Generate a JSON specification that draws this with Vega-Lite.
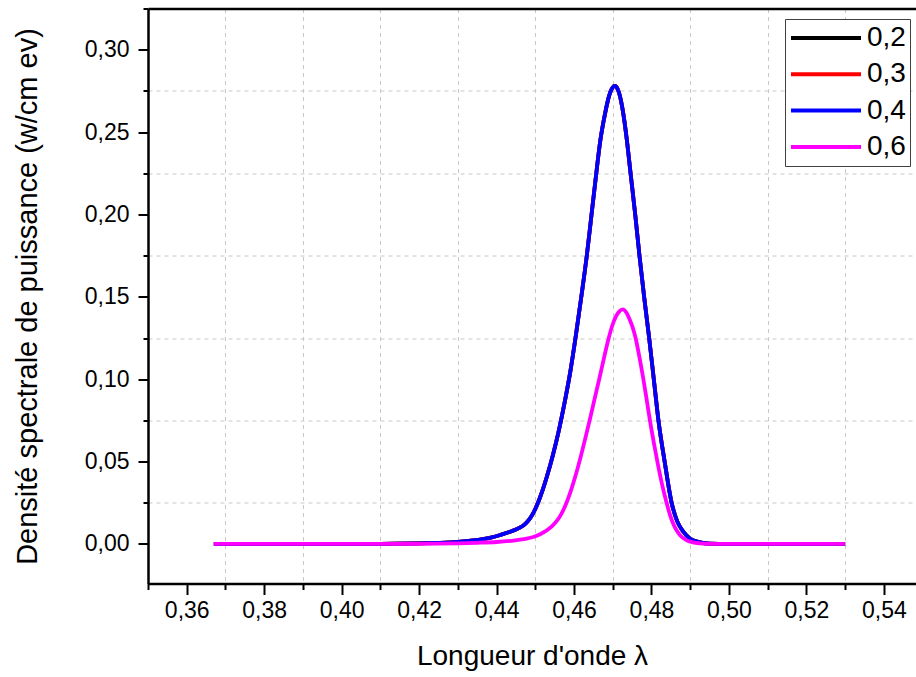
{
  "$schema": "https://vega.github.io/schema/vega-lite/v6.json",
  "width": 768,
  "height": 575,
  "autosize": {"type": "none"},
  "padding": {"left": 148, "top": 8.5, "right": 0, "bottom": 93.5},
  "background": "white",
  "config": {"view": {"stroke": null}, "font": "Liberation Sans"},
  "datasets": {
    "curves": [
      {"s":"0,2","x":0.367,"y":0},{"s":"0,2","x":0.39,"y":0},{"s":"0,2","x":0.41,"y":0.0001},{"s":"0,2","x":0.42,"y":0.0003},{"s":"0,2","x":0.4245,"y":0.0006},{"s":"0,2","x":0.43,"y":0.0012},{"s":"0,2","x":0.435,"y":0.0024},{"s":"0,2","x":0.4385,"y":0.0038},{"s":"0,2","x":0.4409,"y":0.0054},{"s":"0,2","x":0.4435,"y":0.0074},{"s":"0,2","x":0.446,"y":0.0099},{"s":"0,2","x":0.447,"y":0.0114},{"s":"0,2","x":0.448,"y":0.0136},{"s":"0,2","x":0.449,"y":0.0168},{"s":"0,2","x":0.45,"y":0.0212},{"s":"0,2","x":0.451,"y":0.0268},{"s":"0,2","x":0.452,"y":0.0334},{"s":"0,2","x":0.453,"y":0.0409},{"s":"0,2","x":0.4545,"y":0.0535},{"s":"0,2","x":0.456,"y":0.068},{"s":"0,2","x":0.4575,"y":0.085},{"s":"0,2","x":0.459,"y":0.104},{"s":"0,2","x":0.4605,"y":0.127},{"s":"0,2","x":0.462,"y":0.152},{"s":"0,2","x":0.4633,"y":0.175},{"s":"0,2","x":0.4645,"y":0.1995},{"s":"0,2","x":0.4656,"y":0.222},{"s":"0,2","x":0.4668,"y":0.245},{"s":"0,2","x":0.468,"y":0.261},{"s":"0,2","x":0.469,"y":0.2715},{"s":"0,2","x":0.4698,"y":0.2765},{"s":"0,2","x":0.4706,"y":0.278},{"s":"0,2","x":0.4716,"y":0.274},{"s":"0,2","x":0.4726,"y":0.263},{"s":"0,2","x":0.4736,"y":0.246},{"s":"0,2","x":0.4746,"y":0.225},{"s":"0,2","x":0.4758,"y":0.2},{"s":"0,2","x":0.4769,"y":0.175},{"s":"0,2","x":0.4781,"y":0.15},{"s":"0,2","x":0.4794,"y":0.125},{"s":"0,2","x":0.4806,"y":0.1},{"s":"0,2","x":0.4818,"y":0.075},{"s":"0,2","x":0.4834,"y":0.05},{"s":"0,2","x":0.4852,"y":0.025},{"s":"0,2","x":0.4866,"y":0.014},{"s":"0,2","x":0.4882,"y":0.0075},{"s":"0,2","x":0.49,"y":0.0032},{"s":"0,2","x":0.4925,"y":0.001},{"s":"0,2","x":0.495,"y":0.0002},{"s":"0,2","x":0.5,"y":0},{"s":"0,2","x":0.53,"y":0},
      {"s":"0,3","x":0.367,"y":0},{"s":"0,3","x":0.39,"y":0},{"s":"0,3","x":0.41,"y":0.0001},{"s":"0,3","x":0.42,"y":0.0003},{"s":"0,3","x":0.4245,"y":0.0006},{"s":"0,3","x":0.43,"y":0.0012},{"s":"0,3","x":0.435,"y":0.0024},{"s":"0,3","x":0.4385,"y":0.0038},{"s":"0,3","x":0.4409,"y":0.0054},{"s":"0,3","x":0.4435,"y":0.0074},{"s":"0,3","x":0.446,"y":0.0099},{"s":"0,3","x":0.447,"y":0.0114},{"s":"0,3","x":0.448,"y":0.0136},{"s":"0,3","x":0.449,"y":0.0168},{"s":"0,3","x":0.45,"y":0.0212},{"s":"0,3","x":0.451,"y":0.0268},{"s":"0,3","x":0.452,"y":0.0334},{"s":"0,3","x":0.453,"y":0.0409},{"s":"0,3","x":0.4545,"y":0.0535},{"s":"0,3","x":0.456,"y":0.068},{"s":"0,3","x":0.4575,"y":0.085},{"s":"0,3","x":0.459,"y":0.104},{"s":"0,3","x":0.4605,"y":0.127},{"s":"0,3","x":0.462,"y":0.152},{"s":"0,3","x":0.4633,"y":0.175},{"s":"0,3","x":0.4645,"y":0.1995},{"s":"0,3","x":0.4656,"y":0.222},{"s":"0,3","x":0.4668,"y":0.245},{"s":"0,3","x":0.468,"y":0.261},{"s":"0,3","x":0.469,"y":0.2715},{"s":"0,3","x":0.4698,"y":0.2765},{"s":"0,3","x":0.4706,"y":0.278},{"s":"0,3","x":0.4716,"y":0.274},{"s":"0,3","x":0.4726,"y":0.263},{"s":"0,3","x":0.4736,"y":0.246},{"s":"0,3","x":0.4746,"y":0.225},{"s":"0,3","x":0.4758,"y":0.2},{"s":"0,3","x":0.4769,"y":0.175},{"s":"0,3","x":0.4781,"y":0.15},{"s":"0,3","x":0.4794,"y":0.125},{"s":"0,3","x":0.4806,"y":0.1},{"s":"0,3","x":0.4818,"y":0.075},{"s":"0,3","x":0.4834,"y":0.05},{"s":"0,3","x":0.4852,"y":0.025},{"s":"0,3","x":0.4866,"y":0.014},{"s":"0,3","x":0.4882,"y":0.0075},{"s":"0,3","x":0.49,"y":0.0032},{"s":"0,3","x":0.4925,"y":0.001},{"s":"0,3","x":0.495,"y":0.0002},{"s":"0,3","x":0.5,"y":0},{"s":"0,3","x":0.53,"y":0},
      {"s":"0,4","x":0.367,"y":0},{"s":"0,4","x":0.39,"y":0},{"s":"0,4","x":0.41,"y":0.0001},{"s":"0,4","x":0.42,"y":0.0003},{"s":"0,4","x":0.4245,"y":0.0006},{"s":"0,4","x":0.43,"y":0.0012},{"s":"0,4","x":0.435,"y":0.0024},{"s":"0,4","x":0.4385,"y":0.0038},{"s":"0,4","x":0.4409,"y":0.0054},{"s":"0,4","x":0.4435,"y":0.0074},{"s":"0,4","x":0.446,"y":0.0099},{"s":"0,4","x":0.447,"y":0.0114},{"s":"0,4","x":0.448,"y":0.0136},{"s":"0,4","x":0.449,"y":0.0168},{"s":"0,4","x":0.45,"y":0.0212},{"s":"0,4","x":0.451,"y":0.0268},{"s":"0,4","x":0.452,"y":0.0334},{"s":"0,4","x":0.453,"y":0.0409},{"s":"0,4","x":0.4545,"y":0.0535},{"s":"0,4","x":0.456,"y":0.068},{"s":"0,4","x":0.4575,"y":0.085},{"s":"0,4","x":0.459,"y":0.104},{"s":"0,4","x":0.4605,"y":0.127},{"s":"0,4","x":0.462,"y":0.152},{"s":"0,4","x":0.4633,"y":0.175},{"s":"0,4","x":0.4645,"y":0.1995},{"s":"0,4","x":0.4656,"y":0.222},{"s":"0,4","x":0.4668,"y":0.245},{"s":"0,4","x":0.468,"y":0.261},{"s":"0,4","x":0.469,"y":0.2715},{"s":"0,4","x":0.4698,"y":0.2765},{"s":"0,4","x":0.4706,"y":0.278},{"s":"0,4","x":0.4716,"y":0.274},{"s":"0,4","x":0.4726,"y":0.263},{"s":"0,4","x":0.4736,"y":0.246},{"s":"0,4","x":0.4746,"y":0.225},{"s":"0,4","x":0.4758,"y":0.2},{"s":"0,4","x":0.4769,"y":0.175},{"s":"0,4","x":0.4781,"y":0.15},{"s":"0,4","x":0.4794,"y":0.125},{"s":"0,4","x":0.4806,"y":0.1},{"s":"0,4","x":0.4818,"y":0.075},{"s":"0,4","x":0.4834,"y":0.05},{"s":"0,4","x":0.4852,"y":0.025},{"s":"0,4","x":0.4866,"y":0.014},{"s":"0,4","x":0.4882,"y":0.0075},{"s":"0,4","x":0.49,"y":0.0032},{"s":"0,4","x":0.4925,"y":0.001},{"s":"0,4","x":0.495,"y":0.0002},{"s":"0,4","x":0.5,"y":0},{"s":"0,4","x":0.53,"y":0},
      {"s":"0,6","x":0.367,"y":0},{"s":"0,6","x":0.39,"y":0},{"s":"0,6","x":0.42,"y":0.0001},{"s":"0,6","x":0.43,"y":0.0004},{"s":"0,6","x":0.435,"y":0.0007},{"s":"0,6","x":0.44,"y":0.0012},{"s":"0,6","x":0.4448,"y":0.0022},{"s":"0,6","x":0.4475,"y":0.0031},{"s":"0,6","x":0.4495,"y":0.0042},{"s":"0,6","x":0.4515,"y":0.0062},{"s":"0,6","x":0.4542,"y":0.0105},{"s":"0,6","x":0.4555,"y":0.0138},{"s":"0,6","x":0.4567,"y":0.0181},{"s":"0,6","x":0.4579,"y":0.0241},{"s":"0,6","x":0.4592,"y":0.0324},{"s":"0,6","x":0.4604,"y":0.0415},{"s":"0,6","x":0.4616,"y":0.0518},{"s":"0,6","x":0.4628,"y":0.063},{"s":"0,6","x":0.4641,"y":0.0757},{"s":"0,6","x":0.4653,"y":0.0879},{"s":"0,6","x":0.4665,"y":0.1},{"s":"0,6","x":0.4677,"y":0.1125},{"s":"0,6","x":0.4688,"y":0.1235},{"s":"0,6","x":0.4698,"y":0.132},{"s":"0,6","x":0.4708,"y":0.138},{"s":"0,6","x":0.4717,"y":0.1412},{"s":"0,6","x":0.4726,"y":0.1424},{"s":"0,6","x":0.4735,"y":0.1405},{"s":"0,6","x":0.4745,"y":0.1355},{"s":"0,6","x":0.4752,"y":0.131},{"s":"0,6","x":0.4759,"y":0.125},{"s":"0,6","x":0.4768,"y":0.1145},{"s":"0,6","x":0.4778,"y":0.1015},{"s":"0,6","x":0.4787,"y":0.0885},{"s":"0,6","x":0.4796,"y":0.075},{"s":"0,6","x":0.4806,"y":0.0615},{"s":"0,6","x":0.4816,"y":0.049},{"s":"0,6","x":0.4827,"y":0.0365},{"s":"0,6","x":0.4839,"y":0.025},{"s":"0,6","x":0.4848,"y":0.0175},{"s":"0,6","x":0.4857,"y":0.0118},{"s":"0,6","x":0.4866,"y":0.0078},{"s":"0,6","x":0.4874,"y":0.0052},{"s":"0,6","x":0.489,"y":0.0023},{"s":"0,6","x":0.4907,"y":0.001},{"s":"0,6","x":0.4925,"y":0.0004},{"s":"0,6","x":0.495,"y":0.0001},{"s":"0,6","x":0.5,"y":0},{"s":"0,6","x":0.53,"y":0}
    ]
  },
  "data": {"name": "curves"},
  "encoding": {
    "y": {
      "field": "y",
      "type": "quantitative",
      "scale": {"domain": [-0.024, 0.325], "nice": false, "zero": false},
      "axis": {
        "values": [0, 0.025, 0.05, 0.075, 0.1, 0.125, 0.15, 0.175, 0.2, 0.225, 0.25, 0.275, 0.3, 0.325],
        "labelExpr": "abs(datum.value*20 - round(datum.value*20)) < 0.01 ? replace(format(datum.value, '.2f'), '.', ',') : ''",
        "grid": true,
        "gridDash": [4, 4],
        "gridColor": "#c8c8c8",
        "gridWidth": 1,
        "gridOpacity": {"condition": {"test": "abs(datum.value*20 - round(datum.value*20)) < 0.01", "value": 0}, "value": 1},
        "tickSize": {"condition": {"test": "abs(datum.value*20 - round(datum.value*20)) < 0.01", "value": 10}, "value": 5},
        "tickWidth": 2,
        "tickColor": "black",
        "domainColor": "black",
        "domainWidth": 2.5,
        "labelFontSize": 23,
        "labelColor": "black",
        "labelPadding": 9,
        "title": "Densité spectrale de puissance (w/cm ev)",
        "titleFontSize": 29,
        "titleFontWeight": "normal",
        "titleColor": "black",
        "titlePadding": 42
      }
    }
  },
  "layer": [
    {
      "mark": {"type": "line", "strokeWidth": 3.8, "interpolate": "monotone"},
      "encoding": {
        "x": {
          "field": "x",
          "type": "quantitative",
          "scale": {"domain": [0.35, 0.5483], "nice": false, "zero": false},
          "axis": {
            "values": [0.35, 0.36, 0.37, 0.38, 0.39, 0.4, 0.41, 0.42, 0.43, 0.44, 0.45, 0.46, 0.47, 0.48, 0.49, 0.5, 0.51, 0.52, 0.53, 0.54],
            "labelExpr": "abs(datum.value*50 - round(datum.value*50)) < 0.01 ? replace(format(datum.value, '.2f'), '.', ',') : ''",
            "grid": true,
            "gridDash": [4, 4],
            "gridColor": "#c8c8c8",
            "gridWidth": 1,
            "gridOpacity": {"condition": {"test": "abs(datum.value*50 - round(datum.value*50)) < 0.01", "value": 0}, "value": 1},
            "tickSize": {"condition": {"test": "abs(datum.value*50 - round(datum.value*50)) < 0.01", "value": 11}, "value": 6},
            "tickWidth": 2,
            "tickColor": "black",
            "domainColor": "black",
            "domainWidth": 2.5,
            "labelFontSize": 23,
            "labelColor": "black",
            "labelPadding": 5,
            "labelFlush": false,
            "labelOverlap": false,
            "title": "Longueur d'onde λ",
            "titleFontSize": 28,
            "titleFontWeight": "normal",
            "titleColor": "black",
            "titlePadding": 20
          }
        },
        "color": {
          "field": "s",
          "type": "nominal",
          "scale": {"domain": ["0,2", "0,3", "0,4", "0,6"], "range": ["#000000", "#ff0000", "#0000ff", "#ff00ff"]},
          "legend": {
            "title": null,
            "orient": "none",
            "legendX": 637,
            "legendY": 10.5,
            "symbolType": "stroke",
            "symbolSize": 4900,
            "symbolStrokeWidth": 4,
            "labelFontSize": 28,
            "labelColor": "black",
            "labelOffset": 4,
            "clipHeight": 30,
            "rowPadding": 6.3,
            "padding": 4,
            "symbolOffset": 0,
            "strokeColor": "#404040",
            "fillColor": "white"
          }
        }
      }
    },
    {
      "mark": {"type": "line", "opacity": 0},
      "encoding": {
        "x": {
          "field": "x",
          "type": "quantitative",
          "axis": {"orient": "top", "labels": false, "ticks": false, "grid": false, "title": null, "domainColor": "black", "domainWidth": 2.5}
        }
      }
    }
  ],
  "resolve": {"axis": {"x": "independent"}}
}
